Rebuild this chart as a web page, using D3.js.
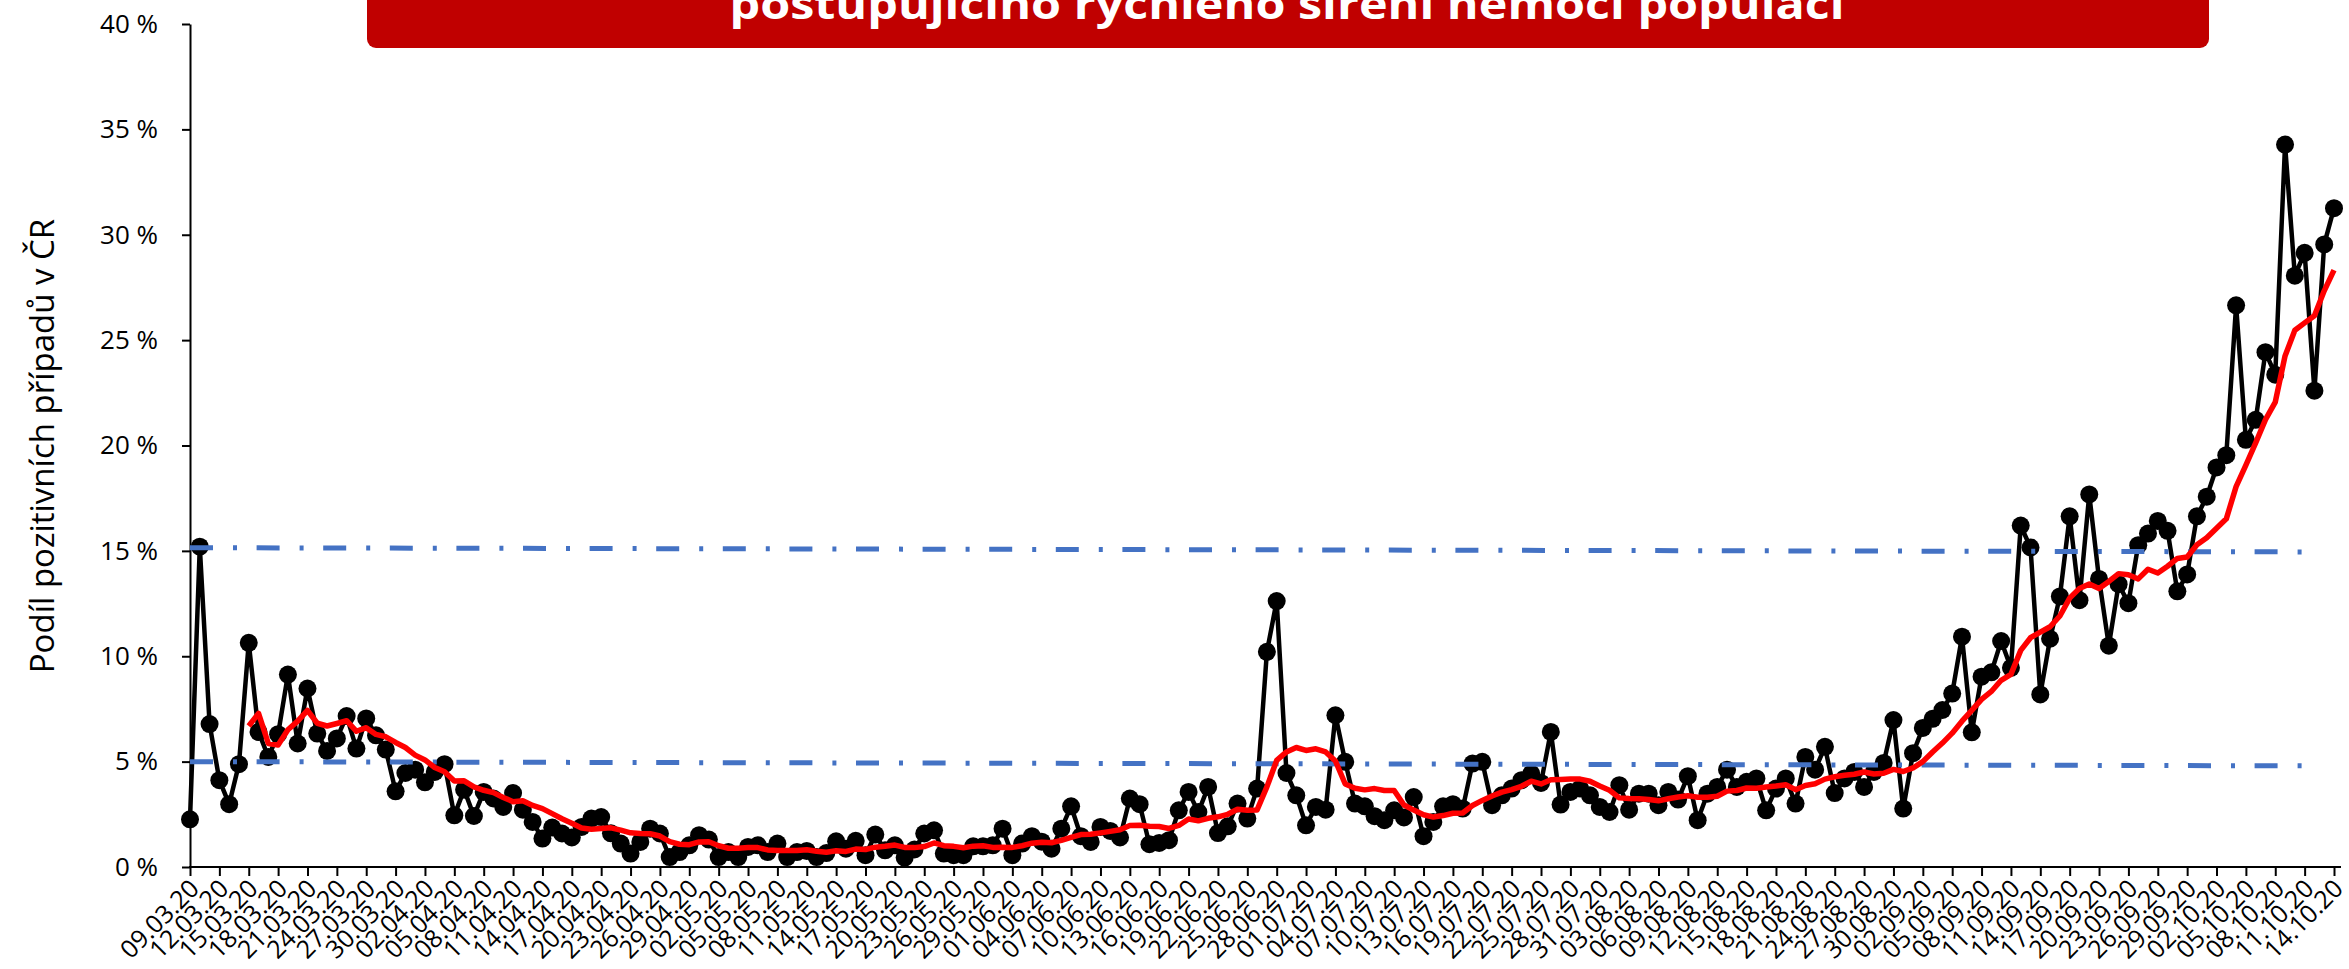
<!DOCTYPE html>
<html lang="cs">
<head>
<meta charset="utf-8">
<title>Podíl pozitivních případů v ČR</title>
<script src="https://cdn.jsdelivr.net/npm/d3@7"></script>
<style>
  html, body { margin: 0; padding: 0; background: #fff; }
  svg { display: block; }
</style>
</head>
<body>
<svg id="chart"></svg>
<script>
const width = 2349, height = 969;

// first day of the series (one value per day)
const startDate = "2020-03-09";

// daily share of positive tests, %
const positive = [
  2.26, 15.2, 6.78, 4.12, 2.98, 4.88, 10.64, 6.41, 5.22, 6.30,
  9.13, 5.86, 8.47, 6.33, 5.51, 6.10, 7.16, 5.62, 7.05, 6.25,
  5.57, 3.59, 4.46, 4.62, 4.02, 4.51, 4.88, 2.45, 3.67, 2.42,
  3.56, 3.25, 2.85, 3.51, 2.72, 2.14, 1.35, 1.87, 1.59, 1.40,
  1.90, 2.30, 2.37, 1.60, 1.11, 0.64, 1.19, 1.82, 1.59, 0.47,
  0.71, 1.03, 1.51, 1.30, 0.47, 0.71, 0.47, 0.95, 1.03, 0.71,
  1.11, 0.47, 0.71, 0.76, 0.47, 0.66, 1.22, 0.87, 1.24, 0.56,
  1.54, 0.79, 1.03, 0.45, 0.83, 1.59, 1.74, 0.64, 0.56, 0.56,
  0.98, 0.98, 1.03, 1.82, 0.56, 1.11, 1.46, 1.20, 0.87, 1.82,
  2.88, 1.46, 1.19, 1.90, 1.71, 1.40, 3.25, 2.98, 1.08, 1.14,
  1.27, 2.69, 3.56, 2.61, 3.80, 1.61, 1.93, 3.01, 2.30, 3.72,
  10.21, 12.62, 4.46, 3.40, 1.98, 2.85, 2.72, 7.20, 4.99, 3.01,
  2.88, 2.41, 2.22, 2.69, 2.35, 3.32, 1.46, 2.14, 2.88, 2.98,
  2.77, 4.91, 4.99, 2.93, 3.40, 3.72, 4.12, 4.43, 3.99, 6.41,
  2.96, 3.56, 3.72, 3.40, 2.85, 2.61, 3.88, 2.72, 3.48, 3.48,
  2.93, 3.56, 3.20, 4.31, 2.22, 3.48, 3.80, 4.62, 3.80, 4.04,
  4.20, 2.69, 3.72, 4.20, 3.01, 5.22, 4.62, 5.70, 3.51, 4.20,
  4.51, 3.80, 4.51, 4.94, 6.97, 2.77, 5.40, 6.60, 7.03, 7.45,
  8.23, 10.93, 6.39, 9.03, 9.24, 10.72, 9.45, 16.20, 15.16, 8.19,
  10.83, 12.84, 16.64, 12.66, 17.68, 13.67, 10.50, 13.42, 12.52, 15.27,
  15.82, 16.42, 15.95, 13.08, 13.88, 16.64, 17.57, 18.96, 19.54, 26.65,
  20.27, 21.22, 24.43, 23.36, 34.28, 28.06, 29.14, 22.60, 29.54, 31.26
];

// red 7-day average, % (first value is 15.03.)
const avgOffset = 6;
const average = [
  6.69, 7.29, 5.86, 5.79,
  6.51, 6.92, 7.43, 6.82, 6.69, 6.81, 6.94, 6.44, 6.61, 6.29,
  6.18, 5.91, 5.67, 5.31, 5.08, 4.72, 4.52, 4.08, 4.09, 3.80,
  3.64, 3.53, 3.30, 3.10, 3.14, 2.92, 2.77, 2.53, 2.29, 2.08,
  1.85, 1.79, 1.83, 1.86, 1.75, 1.62, 1.59, 1.58, 1.47, 1.20,
  1.08, 1.06, 1.19, 1.20, 1.01, 0.89, 0.89, 0.92, 0.92, 0.81,
  0.78, 0.78, 0.78, 0.82, 0.75, 0.70, 0.77, 0.74, 0.85, 0.83,
  0.94, 0.98, 1.04, 0.93, 0.92, 0.97, 1.14, 1.01, 0.98, 0.91,
  0.99, 1.01, 0.93, 0.94, 0.93, 1.01, 1.13, 1.17, 1.15, 1.26,
  1.41, 1.54, 1.55, 1.62, 1.69, 1.77, 1.97, 1.98, 1.93, 1.92,
  1.83, 1.97, 2.28, 2.19, 2.31, 2.38, 2.50, 2.74, 2.69, 2.71,
  3.80, 5.06, 5.46, 5.67, 5.53, 5.61, 5.46, 5.03, 3.94, 3.74,
  3.66, 3.72, 3.63, 3.63, 2.94, 2.70, 2.48, 2.37, 2.44, 2.55,
  2.56, 2.92, 3.16, 3.37, 3.55, 3.67, 3.83, 4.07, 3.94, 4.14,
  4.15, 4.17, 4.17, 4.07, 3.84, 3.64, 3.28, 3.25, 3.24, 3.20,
  3.14, 3.24, 3.32, 3.38, 3.31, 3.31, 3.36, 3.60, 3.63, 3.75,
  3.74, 3.80, 3.84, 3.90, 3.67, 3.87, 3.95, 4.17, 4.28, 4.35,
  4.40, 4.51, 4.41, 4.45, 4.63, 4.53, 4.70, 5.00, 5.46, 5.88,
  6.35, 6.92, 7.43, 7.95, 8.33, 8.86, 9.14, 10.28, 10.88, 11.14,
  11.40, 11.91, 12.76, 13.22, 13.43, 13.22, 13.55, 13.92, 13.87, 13.67,
  14.13, 13.95, 14.27, 14.64, 14.71, 15.29, 15.62, 16.07, 16.52, 18.05,
  19.07, 20.12, 21.23, 22.06, 24.25, 25.47, 25.82, 26.16, 27.34, 28.32
];

// dash-dot limit lines, value at left end and at right end, %
const limitLeft = [15.15, 5.0];
const limitRight = [14.95, 4.8];

const yTicks = [0, 5, 10, 15, 20, 25, 30, 35, 40];
const tickEvery = 3;

const titleText = "postupujícího rychlého šíření nemoci populaci";
const yTitle = "Podíl pozitivních případů v ČR";

const fontFamily = "'Open Sans', 'Noto Sans', sans-serif";

// categories
const fmt = d3.utcFormat("%d.%m.%y");
const start = new Date(startDate + "T00:00:00Z");
const days = positive.map((v, i) => fmt(d3.utcDay.offset(start, i)));
const tickLabels = days.filter((d, i) => i % tickEvery === 0);

const svg = d3.select("#chart")
  .attr("width", width)
  .attr("height", height)
  .attr("viewBox", [0, 0, width, height])
  .style("font-family", fontFamily);

const plotLeft = 190, plotRight = 2334, plotTop = 24, plotBottom = 867;

const x = d3.scalePoint().domain(days).range([plotLeft, plotRight]);
const y = d3.scaleLinear().domain([0, 40]).range([plotBottom, plotTop]);

// title box, cut off by the top edge of the picture
svg.append("rect")
  .attr("x", 367)
  .attr("y", -70)
  .attr("width", 1842)
  .attr("height", 118)
  .attr("rx", 9)
  .attr("fill", "#c00000");

svg.append("text")
  .attr("x", 1287)
  .attr("y", 19)
  .attr("text-anchor", "middle")
  .attr("fill", "#fff")
  .attr("font-weight", "bold")
  .attr("font-size", 42)
  .attr("textLength", 1115)
  .attr("lengthAdjust", "spacingAndGlyphs")
  .text(titleText);

// y axis
const yAxis = svg.append("g")
  .attr("transform", `translate(${plotLeft},0)`)
  .call(d3.axisLeft(y)
    .tickValues(yTicks)
    .tickFormat(d => d + " %")
    .tickSize(8)
    .tickSizeOuter(0)
    .tickPadding(24));

yAxis.selectAll("text")
  .attr("font-size", 26)
  .attr("font-family", fontFamily)
  .attr("fill", "#000");
yAxis.selectAll("line, path")
  .attr("stroke", "#000")
  .attr("stroke-width", 2);

// x axis
const xAxis = svg.append("g")
  .attr("transform", `translate(0,${plotBottom})`)
  .call(d3.axisBottom(x)
    .tickValues(tickLabels)
    .tickSize(9)
    .tickSizeOuter(0));

xAxis.select(".domain").remove();
xAxis.append("line")
  .attr("x1", plotLeft - 1)
  .attr("x2", plotRight + 7)
  .attr("stroke", "#000")
  .attr("stroke-width", 2);

xAxis.selectAll("line")
  .attr("stroke", "#000")
  .attr("stroke-width", 2);

xAxis.selectAll(".tick text")
  .attr("x", 0)
  .attr("y", 0)
  .attr("dy", "0.35em")
  .attr("transform", "translate(4,17) rotate(-45)")
  .attr("text-anchor", "end")
  .attr("font-size", 25)
  .attr("font-family", fontFamily)
  .attr("fill", "#000");

// y title
svg.append("text")
  .attr("transform", "translate(42,446) rotate(-90)")
  .attr("text-anchor", "middle")
  .attr("dy", "0.35em")
  .attr("font-size", 33)
  .attr("fill", "#000")
  .text(yTitle);

// daily series
const dailyLine = d3.line()
  .x((d, i) => x(days[i]))
  .y(d => y(d));

svg.append("path")
  .datum(positive)
  .attr("d", dailyLine)
  .attr("fill", "none")
  .attr("stroke", "#000")
  .attr("stroke-width", 4.5)
  .attr("stroke-linejoin", "round");

svg.append("g")
  .selectAll("circle")
  .data(positive)
  .join("circle")
  .attr("cx", (d, i) => x(days[i]))
  .attr("cy", d => y(d))
  .attr("r", 9)
  .attr("fill", "#000");

// limit lines
const limitEnd = plotLeft + 2128;
limitLeft.forEach((v, k) => {
  svg.append("line")
    .attr("x1", plotLeft)
    .attr("x2", limitEnd)
    .attr("y1", y(v))
    .attr("y2", y(limitRight[k]))
    .attr("stroke", "#4472c4")
    .attr("stroke-width", 5)
    .attr("stroke-dasharray", "23,20,4,19.6");
});

// moving average
const avgLine = d3.line()
  .x((d, i) => x(days[i + avgOffset]))
  .y(d => y(d));

svg.append("path")
  .datum(average)
  .attr("d", avgLine)
  .attr("fill", "none")
  .attr("stroke", "#ff0000")
  .attr("stroke-width", 5.5)
  .attr("stroke-linejoin", "round");
</script>
</body>
</html>
